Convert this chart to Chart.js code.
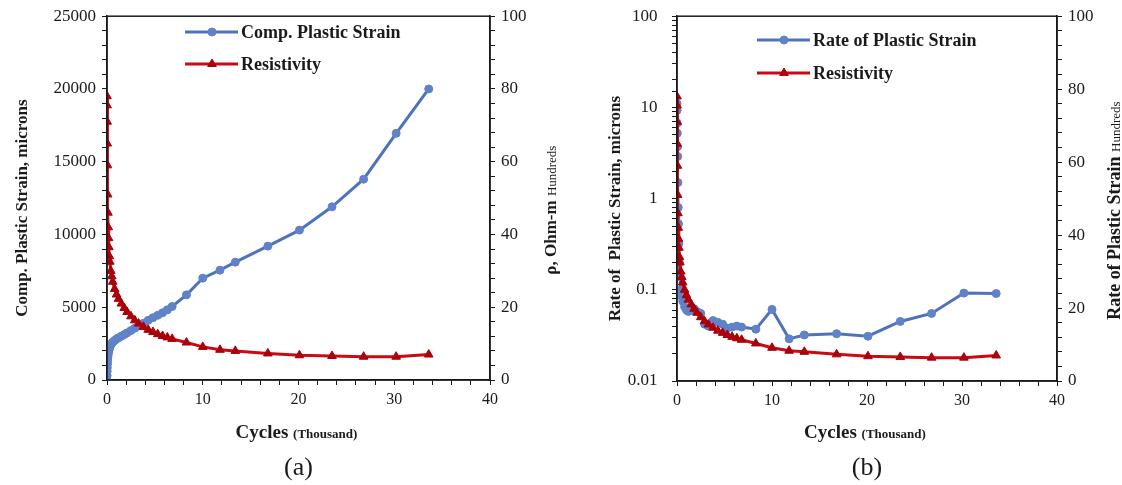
<!DOCTYPE html>
<html>
<head>
<meta charset="utf-8">
<script src="https://cdn.jsdelivr.net/npm/chart.js@4.4.0/dist/chart.umd.min.js"></script>
<style>
  body { margin: 0; background: #fff; width: 1122px; height: 485px; overflow: hidden; }
  .box { position: absolute; top: 0; height: 485px; width: 561px; }
  #boxA { left: 0; }
  #boxB { left: 561px; }
</style>
</head>
<body>
<div class="box" id="boxA"><canvas id="chartA"></canvas></div>
<div class="box" id="boxB"><canvas id="chartB"></canvas></div>
<script>
// cycles in thousands
const cycles = [0, 0.01, 0.02, 0.03, 0.05, 0.07, 0.1, 0.13, 0.16, 0.2, 0.25, 0.3, 0.4, 0.5, 0.6, 0.8,
  1.0, 1.2, 1.5, 1.8, 2.1, 2.5, 2.9, 3.3, 3.8, 4.3, 4.8, 5.3, 5.8, 6.3, 6.8, 8.3,
  10.0, 11.8, 13.4, 16.8, 20.1, 23.5, 26.8, 30.2, 33.6];

// comp. plastic strain, microns
const compStrain = [0, 300, 600, 850, 1100, 1350, 1600, 1780, 1920, 2050, 2170, 2280, 2420, 2520, 2600, 2720,
  2820, 2900, 3010, 3120, 3240, 3400, 3560, 3720, 3900, 4100, 4280, 4450, 4620, 4820, 5050, 5850,
  7000, 7550, 8100, 9200, 10300, 11900, 13800, 16950, 20000];

// resistivity, Ohm-m (hundreds)
const resistivity = [78, 75.5, 71, 65, 59, 51, 46, 42, 39, 36.5, 34, 32.5, 30, 28.5, 27, 25,
  23.5, 22.3, 21, 19.8, 18.7, 17.5, 16.4, 15.5, 14.6, 13.8, 13.2, 12.6, 12.1, 11.7, 11.3, 10.3,
  9.1, 8.3, 8.0, 7.3, 6.8, 6.6, 6.4, 6.4, 7.0];

// rate of plastic strain, microns (log)
const rateStrain = [11, 9.3, 6.7, 5.2, 3.7, 2.9, 1.5, 0.8, 0.53, 0.32, 0.2, 0.14, 0.1, 0.085, 0.075, 0.065,
  0.06, 0.058, 0.06, 0.062, 0.058, 0.055, 0.042, 0.04, 0.046, 0.044, 0.042, 0.038, 0.039, 0.04, 0.039, 0.037,
  0.061, 0.029, 0.032, 0.033, 0.031, 0.045, 0.055, 0.092, 0.091];

const xLabels = [0, 10, 20, 30, 40];
const strainLabels = [0, 5000, 10000, 15000, 20000, 25000];
const rightLabels = [0, 20, 40, 60, 80, 100];
const logLabels = [0.01, 0.1, 1, 10, 100];

const BLUE = "rgb(79,114,190)";
const BLUE_PT = "rgb(95,130,200)";
const RED = "rgb(200,10,20)";
const RED_PT = "rgb(170,0,10)";
const SERIF = "'Liberation Serif', 'Times New Roman', serif";
const INK = "#1a1a1a";

const pts = (xs, ys) => xs.map((x, i) => ({ x: x, y: ys[i] }));

function mixedText(ctx, parts, cx, cy, rotate) {
  ctx.save();
  ctx.translate(cx, cy);
  if (rotate) ctx.rotate(-Math.PI / 2);
  let total = 0;
  parts.forEach(p => { ctx.font = p.font; p.w = ctx.measureText(p.text).width; total += p.w; });
  let x = -total / 2;
  ctx.textBaseline = "alphabetic";
  ctx.textAlign = "left";
  ctx.fillStyle = INK;
  parts.forEach(p => { ctx.font = p.font; ctx.fillText(p.text, x, 0); x += p.w; });
  ctx.restore();
}

// frame, legend, titles and caption
function decor(opt) {
  return {
    id: "decor",
    afterDraw(chart) {
      const ctx = chart.ctx;
      const a = chart.chartArea;
      ctx.save();
      ctx.strokeStyle = INK;
      ctx.lineWidth = 1.5;
      ctx.strokeRect(a.left, a.top, a.right - a.left, a.bottom - a.top);

      // legend
      chart.data.datasets.forEach((ds, i) => {
        const y = opt.legendY[i];
        ctx.strokeStyle = ds.borderColor;
        ctx.lineWidth = 3;
        ctx.beginPath();
        ctx.moveTo(opt.legendX, y);
        ctx.lineTo(opt.legendX + 53, y);
        ctx.stroke();
        ctx.fillStyle = ds.pointBackgroundColor;
        ctx.strokeStyle = ds.pointBorderColor;
        ctx.lineWidth = 1;
        Chart.helpers.drawPoint(ctx, { pointStyle: ds.pointStyle, radius: ds.pointRadius, rotation: 0, borderWidth: 1 }, opt.legendX + 27, y);
        ctx.fillStyle = INK;
        ctx.font = "bold 18px " + SERIF;
        ctx.textBaseline = "middle";
        ctx.textAlign = "left";
        ctx.fillText(ds.label, opt.legendX + 56, y + 1);
      });
      ctx.restore();

      const cx = (a.left + a.right) / 2;
      const cy = (a.top + a.bottom) / 2;
      mixedText(ctx, opt.leftTitle, opt.leftTitleX, cy + 10, true);
      mixedText(ctx, opt.rightTitle, opt.rightTitleX, cy + 12, true);
      mixedText(ctx, [
        { text: "Cycles ", font: "bold 19px " + SERIF },
        { text: "(Thousand)", font: "bold 13px " + SERIF }
      ], cx - 2, 438, false);
      mixedText(ctx, [{ text: opt.caption, font: "26px " + SERIF }], cx, 475, false);
    }
  };
}

function xScale(h) {
  return {
    type: "linear", min: 0, max: 40,
    afterFit(s) { s.height = h; },
    border: { color: INK, width: 1.5 },
    grid: { drawOnChartArea: false, color: INK, tickLength: 5 },
    ticks: {
      stepSize: 2, autoSkip: false, maxRotation: 0, padding: 5, color: INK,
      font: { family: SERIF, size: 16 },
      callback: v => xLabels.includes(v) ? String(v) : ""
    }
  };
}

function rightScale(width) {
  return {
    type: "linear", position: "right", min: 0, max: 100,
    afterFit(s) { s.width = width; },
    border: { color: INK, width: 1.5 },
    grid: { drawOnChartArea: false, color: INK, tickLength: 5 },
    ticks: {
      stepSize: 4, autoSkip: false, padding: 6, color: INK,
      font: { family: SERIF, size: 17 },
      callback: v => rightLabels.includes(v) ? String(v) : ""
    }
  };
}

function lineSet(label, data, color, ptColor, style, radius, axis, order) {
  return {
    label: label, data: data, yAxisID: axis, order: order,
    borderColor: color, borderWidth: 3,
    pointStyle: style, pointRadius: radius,
    pointBackgroundColor: ptColor, pointBorderColor: ptColor, pointBorderWidth: 1,
    tension: 0
  };
}

new Chart(document.getElementById("chartA"), {
  type: "line",
  data: {
    datasets: [
      lineSet("Comp. Plastic Strain", pts(cycles, compStrain), BLUE, BLUE_PT, "circle", 4, "y", 1),
      lineSet("Resistivity", pts(cycles, resistivity), RED, RED_PT, "triangle", 5, "y1", 0)
    ]
  },
  options: {
    responsive: true, maintainAspectRatio: false, animation: false,
    layout: { padding: { top: 16, left: 0, right: 0, bottom: 0 } },
    plugins: { legend: { display: false }, tooltip: { enabled: false } },
    scales: {
      x: xScale(105),
      y: {
        type: "linear", min: 0, max: 25000,
        afterFit(s) { s.width = 107; },
        border: { color: INK, width: 1.5 },
        grid: { drawOnChartArea: false, color: INK, tickLength: 5 },
        ticks: {
          stepSize: 1000, autoSkip: false, padding: 6, color: INK,
          font: { family: SERIF, size: 17 },
          callback: v => strainLabels.includes(v) ? String(v) : ""
        }
      },
      y1: rightScale(71)
    }
  },
  plugins: [decor({
    legendX: 185, legendY: [32, 64],
    leftTitle: [{ text: "Comp. Plastic Strain, microns", font: "bold 17px " + SERIF }],
    leftTitleX: 27,
    rightTitle: [
      { text: "\u03c1, Ohm-m ", font: "bold 17px " + SERIF },
      { text: "Hundreds", font: "13px " + SERIF }
    ],
    rightTitleX: 556,
    caption: "(a)"
  })]
});

new Chart(document.getElementById("chartB"), {
  type: "line",
  data: {
    datasets: [
      lineSet("Rate of Plastic Strain", pts(cycles, rateStrain), BLUE, BLUE_PT, "circle", 4, "y", 1),
      lineSet("Resistivity", pts(cycles, resistivity), RED, RED_PT, "triangle", 5, "y1", 0)
    ]
  },
  options: {
    responsive: true, maintainAspectRatio: false, animation: false,
    layout: { padding: { top: 16, left: 0, right: 0, bottom: 0 } },
    plugins: { legend: { display: false }, tooltip: { enabled: false } },
    scales: {
      x: xScale(104),
      y: {
        type: "logarithmic", min: 0.01, max: 100,
        afterFit(s) { s.width = 116; },
        border: { color: INK, width: 1.5 },
        grid: { drawOnChartArea: false, color: INK, tickLength: 5 },
        ticks: {
          autoSkip: false, padding: 6, color: INK,
          font: { family: SERIF, size: 17 },
          // trailing spaces push the labels away from the axis
          callback: v => logLabels.some(l => Math.abs(l - v) < l * 1e-6) ? String(v) + "  " : ""
        }
      },
      y1: rightScale(65)
    }
  },
  plugins: [decor({
    legendX: 196, legendY: [40, 73],
    leftTitle: [{ text: "Rate of  Plastic Strain, microns", font: "bold 17px " + SERIF }],
    leftTitleX: 59,
    rightTitle: [
      { text: "Rate of Plastic Strain ", font: "bold 18px " + SERIF },
      { text: "Hundreds", font: "13px " + SERIF }
    ],
    rightTitleX: 559,
    caption: "(b)"
  })]
});
</script>
</body>
</html>
